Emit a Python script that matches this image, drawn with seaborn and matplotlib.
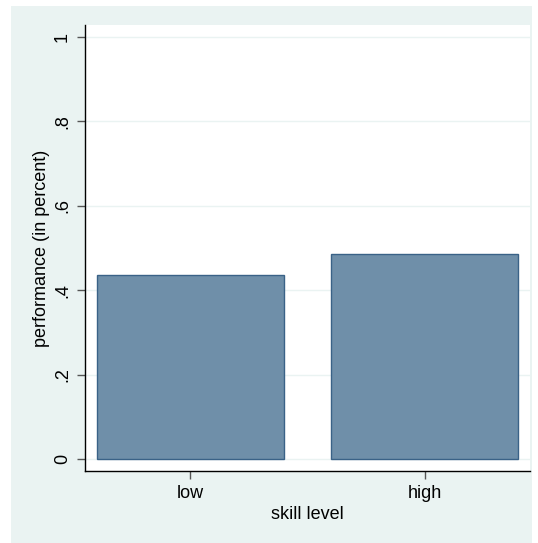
import matplotlib
matplotlib.use("Agg")
import matplotlib.pyplot as plt
import seaborn as sns
import pandas as pd

skill = ["low", "high"]
performance = [0.436, 0.486]
yticks = [0, 0.2, 0.4, 0.6, 0.8, 1.0]
ytick_labels = ["0", ".2", ".4", ".6", ".8", "1"]

sns.set_style("white")
plt.rcParams["font.family"] = ["Liberation Sans", "DejaVu Sans"]
plt.rcParams["text.color"] = "black"
plt.rcParams["axes.labelcolor"] = "black"

df = pd.DataFrame({"skill level": skill, "performance": performance})

fig = plt.figure(figsize=(5.38, 5.43), dpi=100)
fig.patch.set_facecolor("white")
# stata-like light background panel, kept behind the axes
panel = plt.Rectangle((11 / 538, 0), 521 / 538, 537 / 543,
                      transform=fig.transFigure, facecolor="#eaf3f2",
                      edgecolor="none", zorder=-10)
fig.add_artist(panel)

ax = fig.add_axes([85 / 538, 72 / 543, 445 / 538, 446 / 543])
ax.set_facecolor("white")

sns.barplot(data=df, x="skill level", y="performance", ax=ax, width=0.8,
            color="#6f8fa9", saturation=1, edgecolor="#3a6287", linewidth=1,
            zorder=3)

ax.set_xlim(-0.45, 1.45)
ax.set_ylim(-12 / 422, 1 + 12 / 422)
ax.set_yticks(yticks)
ax.set_yticklabels(ytick_labels, rotation=90, va="center")
ax.yaxis.grid(True, color="#eaf3f2", linewidth=1, zorder=0)
ax.set_axisbelow(True)

for s in ["top", "right"]:
    ax.spines[s].set_visible(False)
for s in ["left", "bottom"]:
    ax.spines[s].set_color("black")
    ax.spines[s].set_linewidth(1)

ax.tick_params(axis="both", length=6, width=1, color="#555555",
               labelsize=13, labelcolor="black", direction="out", pad=4,
               left=True, bottom=True)
ax.set_xlabel("skill level", fontsize=13, labelpad=3, color="black")
ax.set_ylabel("performance (in percent)", fontsize=13, labelpad=3, color="black")

fig.savefig("out.png", dpi=100)
